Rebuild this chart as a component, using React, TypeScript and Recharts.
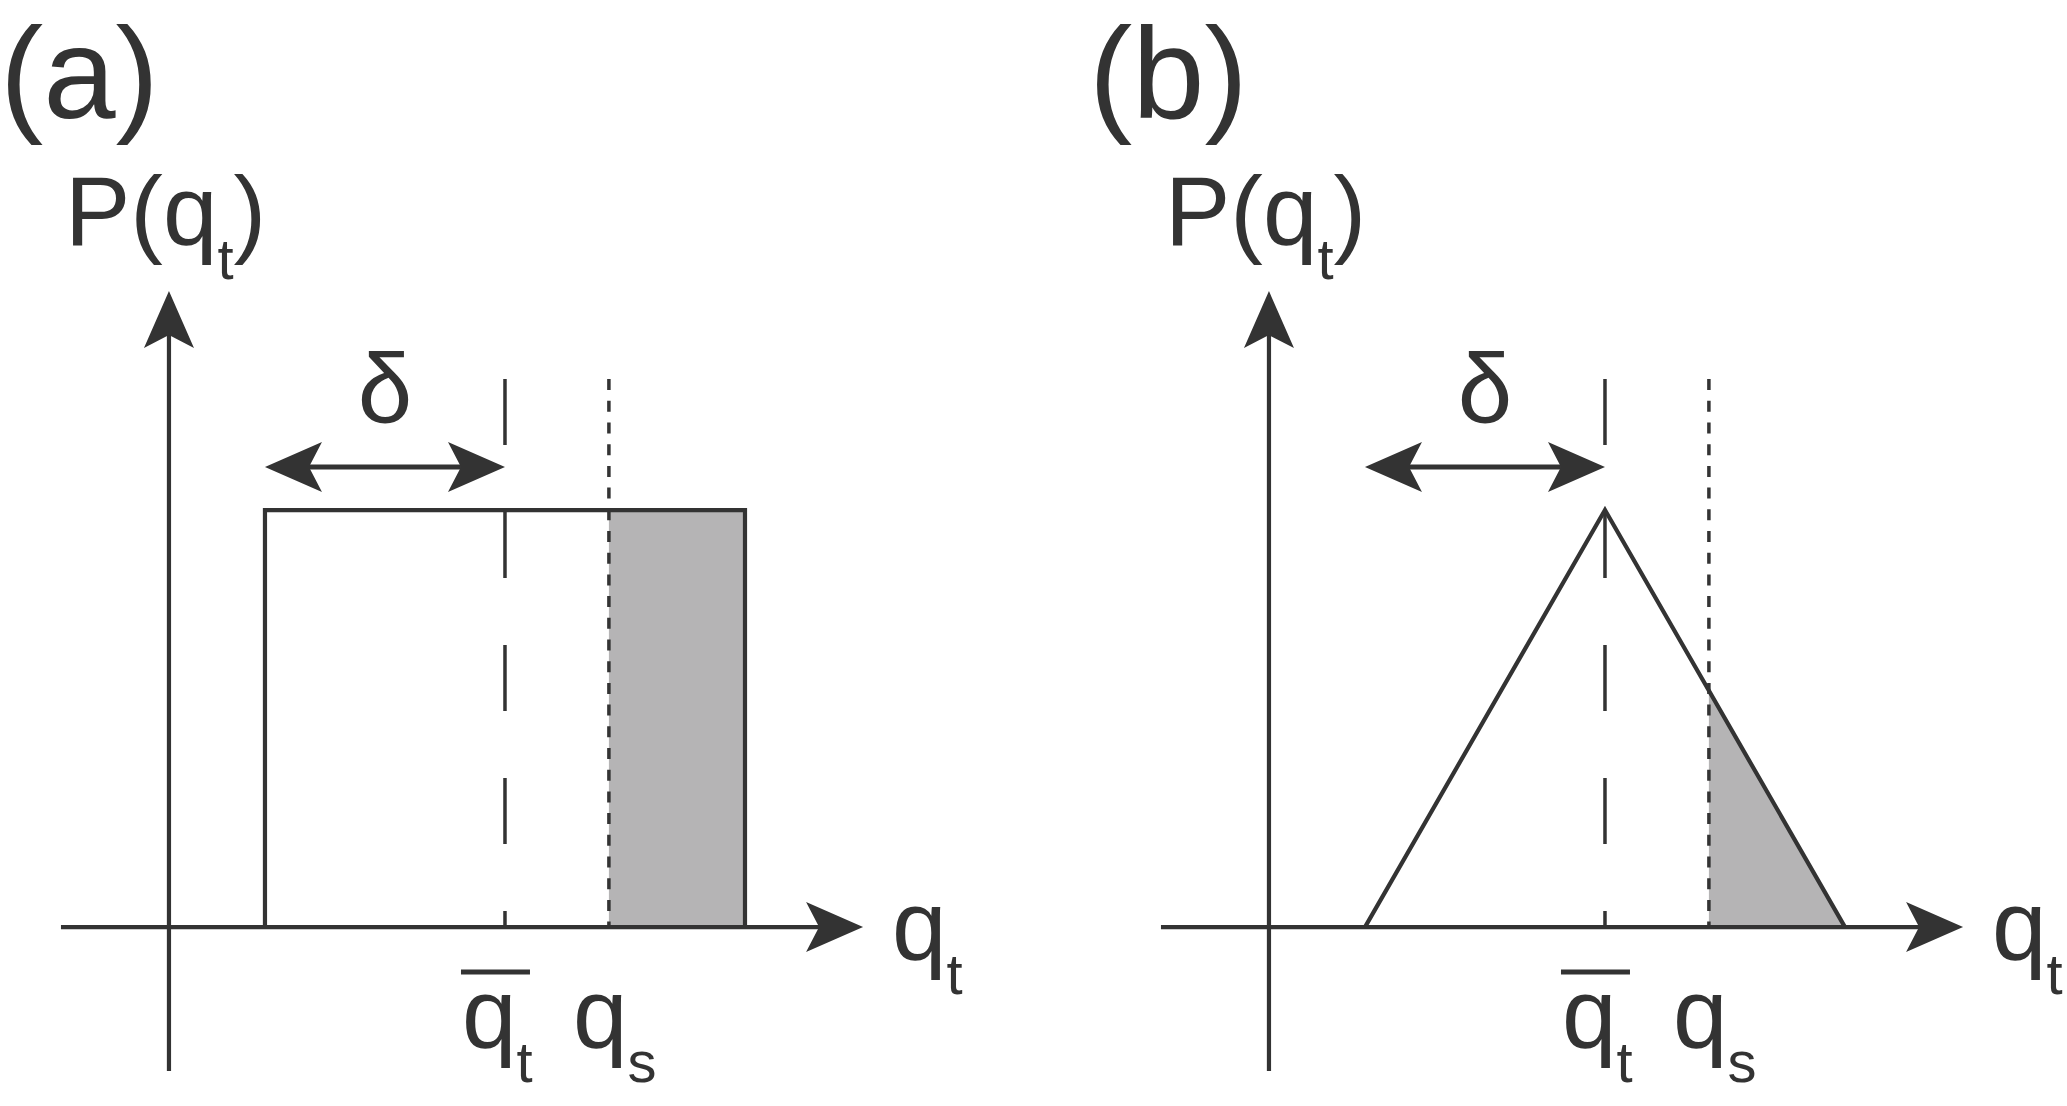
import React from 'react';
import { ComposedChart, XAxis, YAxis, Line, Area, ReferenceLine, ReferenceDot } from 'recharts';

// ---------- data (schematic units) ----------
const Q_DOMAIN: [number, number] = [-7.04, 33.25];
const P_DOMAIN: [number, number] = [-4.29, 22.23];

const Q_MEAN = 14;
const DELTA = 10;
const Q_S = 18.33;
const P_MAX = 10;
const GUIDE_TOP = 13.14;
const DELTA_ARROW_P = 11.03;

const Q_AXIS: [number, number] = [-4.5, 28.92];
const P_AXIS: [number, number] = [-3.45, 15.25];

const uniformOutline = [
  { q: Q_MEAN - DELTA, p: 0 },
  { q: Q_MEAN - DELTA, p: P_MAX },
  { q: Q_MEAN + DELTA, p: P_MAX },
  { q: Q_MEAN + DELTA, p: 0 },
];
const uniformTail = [
  { q: Q_S, p: P_MAX },
  { q: Q_MEAN + DELTA, p: P_MAX },
];
const triangleOutline = [
  { q: Q_MEAN - DELTA, p: 0 },
  { q: Q_MEAN, p: P_MAX },
  { q: Q_MEAN + DELTA, p: 0 },
];
const triangleTail = [
  { q: Q_S, p: 5.67 },
  { q: Q_MEAN + DELTA, p: 0 },
];

const panelTitles = ['(a)', '(b)'];

// ---------- styles ----------
const INK = '#333333';
const TAIL_FILL = '#b5b4b5';
const FONT = '"Liberation Sans", Arial, Helvetica, sans-serif';
const W = 967;
const H = 1106;
const PX_PER_Q = 24;

function headPoints(tx: number, ty: number, ux: number, uy: number) {
  const L = 57, HW = 25, N = 44;
  const nx = -uy, ny = ux;
  const bx = tx - ux * L, by = ty - uy * L;
  const pts = [
    [tx, ty],
    [bx + nx * HW, by + ny * HW],
    [tx - ux * N, ty - uy * N],
    [bx - nx * HW, by - ny * HW],
  ];
  return pts.map((p) => p.join(',')).join(' ');
}

function ArrowLine(props: any) {
  const { x1, y1, x2, y2, double, width } = props;
  const len = Math.hypot(x2 - x1, y2 - y1) || 1;
  const ux = (x2 - x1) / len, uy = (y2 - y1) / len;
  const N = 44;
  const sx = double ? x1 + ux * N : x1;
  const sy = double ? y1 + uy * N : y1;
  return (
    <g>
      <line x1={sx} y1={sy} x2={x2 - ux * N} y2={y2 - uy * N} stroke={INK} strokeWidth={width} />
      <polygon points={headPoints(x2, y2, ux, uy)} fill={INK} />
      {double && <polygon points={headPoints(x1, y1, -ux, -uy)} fill={INK} />}
    </g>
  );
}

function SubText(props: {
  cx: number; cy: number; dx: number; dy: number; main: string; sub: string; after?: string;
  bar?: [number, number, number];
}) {
  const { cx, cy, dx, dy, main, sub, after, bar } = props;
  const SUB_DY = 34;
  return (
    <g>
      {bar && (
        <line x1={cx + bar[0]} x2={cx + bar[1]} y1={cy + bar[2]} y2={cy + bar[2]} stroke={INK} strokeWidth={5} />
      )}
      <text x={cx + dx} y={cy + dy} fontSize={98} fontFamily={FONT} fill={INK}>
        {main}
        <tspan fontSize={58} dy={SUB_DY}>{sub}</tspan>
        {after ? <tspan fontSize={98} dy={-SUB_DY}>{after}</tspan> : null}
      </text>
    </g>
  );
}

function Panel({ title, ext, titleX, outline, tail }: {
  title: string; ext: number; titleX: number; outline: any[]; tail: any[];
}) {
  const qDomain: [number, number] = [Q_DOMAIN[0] - ext / PX_PER_Q, Q_DOMAIN[1]];
  return (
    <ComposedChart width={W + ext} height={H} margin={{ top: 0, right: 0, bottom: 0, left: 0 }}>
      <XAxis type="number" dataKey="q" domain={qDomain} hide allowDataOverflow />
      <YAxis type="number" dataKey="p" domain={P_DOMAIN} hide allowDataOverflow />
      <Area
        data={tail}
        dataKey="p"
        type="linear"
        fill={TAIL_FILL}
        fillOpacity={1}
        stroke="none"
        baseValue={0}
        dot={false}
        activeDot={false}
        isAnimationActive={false}
      />
      <ReferenceLine
        segment={[{ x: Q_S, y: GUIDE_TOP }, { x: Q_S, y: 0 }]}
        stroke={INK}
        strokeWidth={3.5}
        strokeDasharray="11 10.7"
      />
      <ReferenceLine
        segment={[{ x: Q_MEAN, y: GUIDE_TOP }, { x: Q_MEAN, y: 0 }]}
        stroke={INK}
        strokeWidth={3.5}
        strokeDasharray="66 67"
      />
      <Line
        data={outline}
        dataKey="p"
        type="linear"
        stroke={INK}
        strokeWidth={4.2}
        strokeLinejoin="miter"
        dot={false}
        activeDot={false}
        isAnimationActive={false}
      />
      <ReferenceLine
        segment={[{ x: Q_AXIS[0], y: 0 }, { x: Q_AXIS[1], y: 0 }]}
        shape={(p: any) => <ArrowLine {...p} width={4.2} />}
      />
      <ReferenceLine
        segment={[{ x: 0, y: P_AXIS[0] }, { x: 0, y: P_AXIS[1] }]}
        shape={(p: any) => <ArrowLine {...p} width={4.2} />}
      />
      <ReferenceLine
        segment={[{ x: Q_MEAN - DELTA, y: DELTA_ARROW_P }, { x: Q_MEAN, y: DELTA_ARROW_P }]}
        shape={(p: any) => <ArrowLine {...p} width={5} double />}
      />
      <ReferenceDot
        x={qDomain[0]}
        y={P_DOMAIN[1]}
        r={0}
        ifOverflow="visible"
        shape={(p: any) => (
          <text x={p.cx + titleX} y={p.cy + 118} fontSize={130} fontFamily={FONT} fill={INK}>
            {title}
          </text>
        )}
      />
      <ReferenceDot
        x={0}
        y={16.355}
        r={0}
        ifOverflow="visible"
        shape={(p: any) => <SubText cx={p.cx} cy={p.cy} dx={-104} dy={0} main="P(q" sub="t" after=")" />}
      />
      <ReferenceDot
        x={Q_AXIS[1]}
        y={0}
        r={0}
        ifOverflow="visible"
        shape={(p: any) => <SubText cx={p.cx} cy={p.cy} dx={29} dy={33} main="q" sub="t" />}
      />
      <ReferenceDot
        x={Q_MEAN}
        y={0}
        r={0}
        ifOverflow="visible"
        shape={(p: any) => <SubText cx={p.cx} cy={p.cy} dx={-43} dy={121} main="q" sub="t" bar={[-44, 25, 45]} />}
      />
      <ReferenceDot
        x={Q_S}
        y={0}
        r={0}
        ifOverflow="visible"
        shape={(p: any) => <SubText cx={p.cx} cy={p.cy} dx={-36} dy={121} main="q" sub="s" />}
      />
      <ReferenceDot
        x={Q_MEAN - DELTA / 2}
        y={DELTA_ARROW_P}
        r={0}
        ifOverflow="visible"
        shape={(p: any) => (
          <text x={p.cx} y={p.cy - 45} fontSize={98} fontFamily={FONT} fill={INK} textAnchor="middle">
            δ
          </text>
        )}
      />
    </ComposedChart>
  );
}

export default function App() {
  return (
    <div style={{ position: 'absolute', left: 0, top: 0, width: 2067, height: 1106, background: '#ffffff' }}>
      <div style={{ position: 'absolute', left: 0, top: 0 }}>
        <Panel title={panelTitles[0]} ext={0} titleX={0} outline={uniformOutline} tail={uniformTail} />
      </div>
      <div style={{ position: 'absolute', left: 1080, top: 0 }}>
        <Panel title={panelTitles[1]} ext={20} titleX={9} outline={triangleOutline} tail={triangleTail} />
      </div>
    </div>
  );
}
